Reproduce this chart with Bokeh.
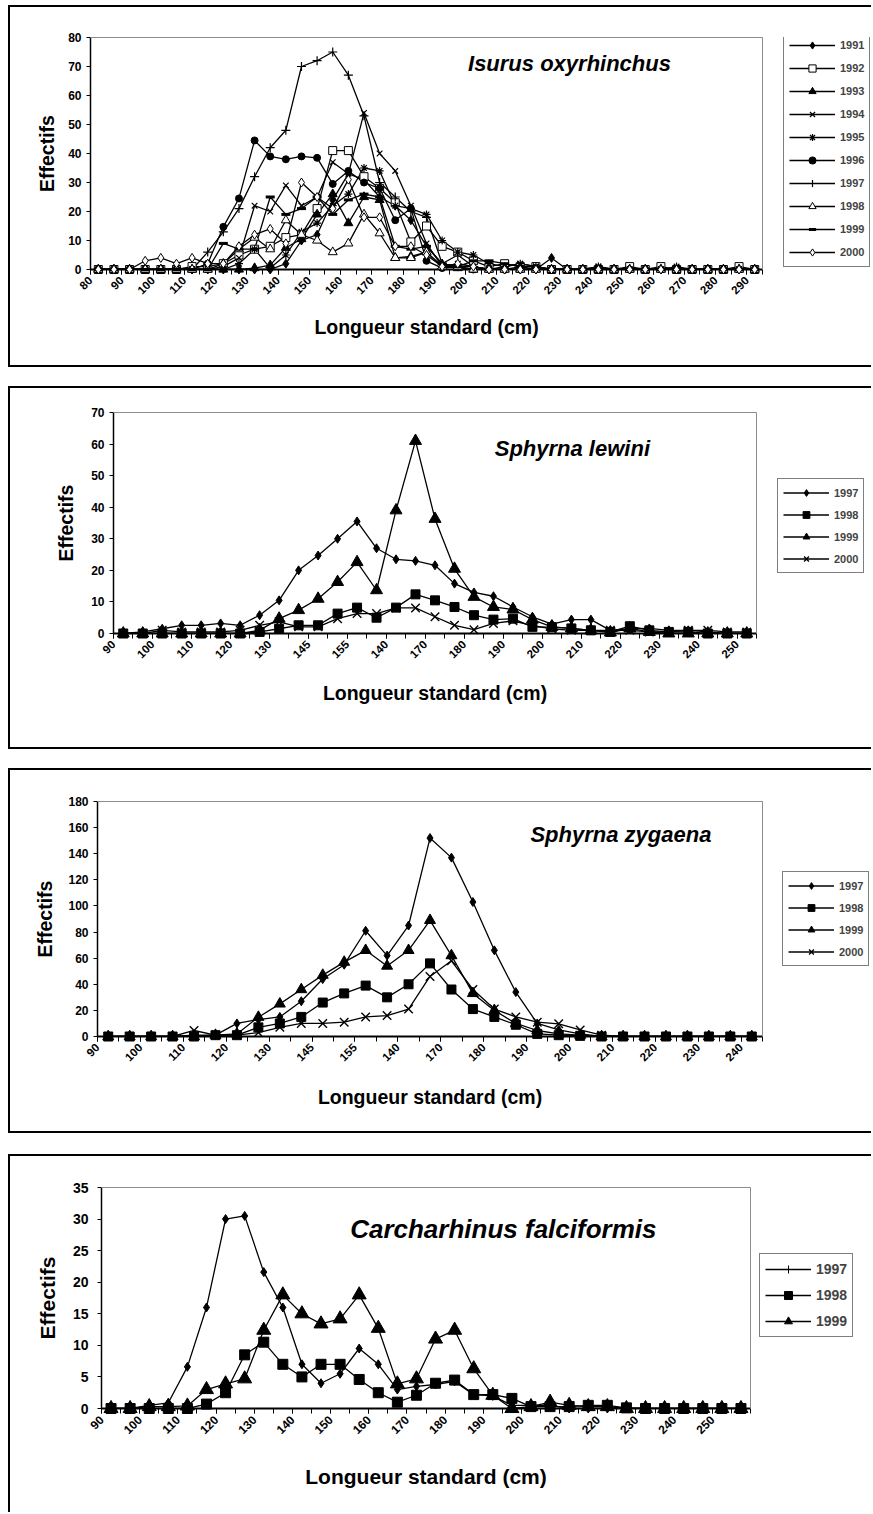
import math
from bokeh.plotting import figure
from bokeh.models import Range1d, FixedTicker, Legend, LegendItem, Label, Title, ColumnDataSource
from bokeh.embed import file_html
from bokeh.resources import INLINE

FONT = "Liberation Sans"

# ---------------- Panel 1 : Isurus oxyrhinchus ----------------
iso_classes = [80, 85, 90, 95, 100, 105, 110, 115, 120, 125, 130, 135, 140, 145, 150,
               155, 160, 165, 170, 175, 180, 185, 190, 195, 200, 205, 210, 215, 220,
               225, 230, 235, 240, 245, 250, 255, 260, 265, 270, 275, 280, 285, 290]
iso_tick_labels = ["80", "90", "100", "110", "120", "130", "140", "150", "160", "170", "180",
                   "190", "200", "210", "220", "230", "240", "250", "260", "270", "280", "290"]
iso_years = ["1991", "1992", "1993", "1994", "1995", "1996", "1997", "1998", "1999", "2000"]
iso_1991 = [0, 0, 0, 0, 0, 0, 0, 0, 0, 0, 0, 0, 2, 10, 12, 24, 33, 31, 25, 22, 17, 8, 2, 1, 1,
            0, 0, 1, 0, 4, 0, 0, 0, 0, 0, 0, 0, 0, 0, 0, 0, 0, 0]
iso_1992 = [0, 0, 0, 0, 0, 0, 1, 1, 2, 5, 7, 8, 11, 12, 21, 41, 41, 32, 28, 23, 9.5, 15, 8, 6, 3,
            1, 2, 1, 1, 0, 0, 0, 0, 0, 1, 0, 1, 0, 0, 0, 0, 1, 0]
iso_1993 = [0, 0, 0, 0, 0, 0, 0, 0, 0, 0, 0.5, 1.5, 7.5, 10.5, 19, 26, 16, 25, 24, 4, 4.5, 6, 1, 0.5, 0,
            0, 0, 0, 0, 0, 0, 0, 0, 0, 0, 0, 0, 0, 0, 0, 0, 0, 0]
iso_1994 = [0, 0, 0, 0, 0, 0, 0, 0, 1, 4, 22, 20, 29, 22, 25, 37, 33, 54, 40, 34, 22, 9, 1, 2, 1,
            0, 1, 2, 1, 0, 0, 0, 1, 0, 0, 0, 0, 0, 0, 0, 0, 0, 0]
iso_1995 = [0, 0, 0, 0, 0, 0, 0, 0, 0, 2, 7, 0.5, 5, 13, 16, 22, 26, 35, 34, 22, 21, 19, 10, 6, 5,
            2, 1, 2, 1, 0, 0, 0, 1, 0, 0, 0, 0, 1, 0, 0, 0, 0, 0]
iso_1996 = [0, 0, 0, 0, 0, 0, 0, 2, 14.7, 24.5, 44.5, 39, 38, 39, 38.5, 29.5, 34, 30, 28, 17, 21, 3, 0.5, 1, 0,
            0, 0, 0, 0, 0, 0, 0, 0, 0, 0, 0, 0, 0, 0, 0, 0, 0, 0]
iso_1997 = [0, 0, 0, 0, 0, 0, 0, 6, 13, 21, 32, 42, 48, 70, 72, 75, 67, 53, 30, 25, 20, 18, 2, 5, 1,
            0, 0, 0, 0, 0, 0, 0, 0, 0, 0, 0, 0, 0, 0, 0, 0, 0, 0]
iso_1998 = [0, 0, 0, 0, 0, 0, 0, 0, 2, 7, 11, 7, 17, 12, 10, 6, 9, 19, 12.5, 4, 4, 6, 1, 1, 0,
            0, 0, 0, 0, 0, 0, 0, 0, 0, 0, 0, 0, 0, 0, 0, 0, 0, 0]
iso_1999 = [0, 0, 0, 0, 0, 0, 0, 0, 9, 7, 7, 25, 19, 21, 25, 19, 24, 26, 25, 8, 7, 8, 2, 1, 3,
            3, 2, 1, 1, 0, 0, 0, 0, 0, 0, 0, 0, 0, 0, 0, 0, 0, 0]
iso_2000 = [0, 0, 0, 3, 4, 2, 4, 2, 2, 8, 12, 14, 9, 30, 25, 21, 31, 18, 18, 8, 8, 5, 1, 2, 1,
            0, 0, 0, 0, 0, 0, 0, 0, 0, 0, 0, 0, 0, 0, 0, 0, 0, 0]

# ---------------- Panel 2 : Sphyrna lewini ----------------
lew_tick_labels = ["90", "100", "110", "120", "130", "145", "155", "140", "170", "180",
                   "190", "200", "210", "220", "230", "240", "250"]
lew_years = ["1997", "1998", "1999", "2000"]
lew_1997 = [0, 0.5, 1.5, 2.6, 2.6, 3.2, 2.6, 5.8, 10.5, 20, 24.7, 30, 35.5, 27, 23.5, 23, 21.6,
            15.8, 13, 11.8, 8.4, 5.3, 3, 4.4, 4.4, 1, 1.5, 1.6, 1, 1, 0.5, 0, 0]
lew_1998 = [0, 0, 0, 0, 0, 0, 0, 0.5, 1.5, 2.6, 2.6, 6.3, 8.2, 5, 8.2, 12.4, 10.5,
            8.4, 5.8, 4.4, 4.7, 2.1, 2, 1.6, 1, 0.5, 2.3, 1, 0.5, 0.5, 0, 0, 0]
lew_1999 = [0, 0, 0, 0, 0, 0, 0, 1, 4.7, 7.4, 11, 16.3, 22.6, 13.7, 39, 61, 36.3,
            20.5, 11.6, 8.4, 7.6, 4.4, 2.1, 1.6, 1, 0.3, 1.6, 0.5, 0, 0, 0, 0, 0]
lew_2000 = [0, 0, 1, 0.5, 0.5, 0.5, 1, 2.6, 3.7, 2.1, 2.1, 4.7, 6.3, 6.3, 8.1, 8.1, 5.3,
            2.6, 1.2, 3.2, 4, 2.5, 1.5, 1, 1, 1, 1, 0.5, 0.5, 1, 1, 0.5, 0.5]

# ---------------- Panel 3 : Sphyrna zygaena ----------------
zyg_tick_labels = ["90", "100", "110", "120", "130", "145", "155", "140", "170", "180",
                   "190", "200", "210", "220", "230", "240"]
zyg_years = ["1997", "1998", "1999", "2000"]
zyg_1997 = [0, 0, 0, 0, 1, 1, 10, 13, 15, 27, 44, 55, 81, 62, 85, 152, 137, 103, 66, 34, 10, 5, 2,
            0, 0, 0, 0, 0, 0, 0, 0]
zyg_1998 = [0, 0, 0, 0, 0, 1, 1, 7, 10, 15, 26, 33, 39, 30, 40, 56, 36, 21, 15, 9, 2, 1, 0.5,
            0, 0, 0, 0, 0, 0, 0, 0]
zyg_1999 = [0, 0, 0, 0, 0, 1, 2, 14.8, 25, 36, 47, 57, 66, 54, 66, 89, 62, 33, 20, 10, 4.6, 2, 1,
            0, 0, 0, 0, 0, 0, 0, 0]
zyg_2000 = [0, 0, 0, 0, 4.6, 1, 1, 3, 7, 10, 10, 11, 15, 16, 21, 46, 58, 36, 21, 15, 11, 9.7, 5,
            1, 0, 0, 0, 0, 0, 0, 0]

# ---------------- Panel 4 : Carcharhinus falciformis ----------------
fal_tick_labels = ["90", "100", "110", "120", "130", "140", "150", "160", "170", "180",
                   "190", "200", "210", "220", "230", "240", "250"]
fal_years = ["1997", "1998", "1999"]
fal_1997 = [0, 0, 0.5, 0.9, 6.6, 16, 30, 30.5, 21.6, 16, 7, 4, 5.5, 9.5, 7, 3, 3.5, 3.8, 4.3, 2.2,
            2, 0.5, 0.5, 0.5, 0, 0, 0, 0, 0, 0, 0, 0, 0, 0]
fal_1998 = [0, 0, 0, 0, 0, 0.7, 2.5, 8.5, 10.5, 7, 5, 7, 7, 4.6, 2.5, 1, 2.1, 4, 4.5, 2.2,
            2.2, 1.6, 0.3, 0.3, 0.3, 0.5, 0.5, 0.1, 0, 0, 0, 0, 0, 0]
fal_1999 = [0, 0, 0.3, 0.3, 0.4, 3, 3.9, 4.7, 12.4, 18, 15, 13.4, 14.2, 18, 12.7, 3.9, 4.7, 11, 12.4, 6.3,
            2.1, 0, 0.3, 1, 0.5, 0.3, 0.3, 0, 0, 0, 0, 0, 0, 0]

X_TITLE = "Longueur standard (cm)"
Y_TITLE = "Effectifs"

# ---------------- styles ----------------
MK = {
    "diamond": dict(marker="diamond", fill="black"),
    "osquare": dict(marker="square", fill="white"),
    "fsquare": dict(marker="square", fill="black"),
    "triangle": dict(marker="triangle", fill="black"),
    "x": dict(marker="x", fill="black"),
    "asterisk": dict(marker="asterisk", fill="black"),
    "circle": dict(marker="circle", fill="black"),
    "cross": dict(marker="cross", fill="black"),
    "otriangle": dict(marker="triangle", fill="white"),
    "dash": dict(marker="dash", fill="black"),
    "odiamond": dict(marker="diamond", fill="white"),
}

W = 863
FRAME_RIGHT = 2
XTITLE_EM = 11.5  # approx. width of the x title in em (bold sans)


def make_panel(n_classes, tick_labels, series, ymax, ystep, H, mb, data_px, title, title_xy,
               title_size, legend_loc, leg_glyph_h, leg_spacing, leg_font, xtick_font, ytick_font,
               axis_px, y_standoff, x_standoff, y_lab_standoff, margin_top, border_bottom=True):
    fl, ft, fb = mb
    x_data_end = 2 * n_classes
    frame_w = W - fl - FRAME_RIGHT
    x_view_end = x_data_end * frame_w / data_px
    p = figure(width=W, height=H, output_backend="svg", toolbar_location=None, title=None,
               x_range=Range1d(0, x_view_end), y_range=Range1d(0, ymax),
               min_border_left=fl, min_border_right=FRAME_RIGHT, min_border_top=ft,
               min_border_bottom=fb, background_fill_color="white", border_fill_color="white")
    st = {"border-left": "2px solid black", "border-top": "2px solid black",
          "margin-top": "%dpx" % margin_top, "margin-left": "8px"}
    if border_bottom:
        st["border-bottom"] = "2px solid black"
    p.styles = st
    p.outline_line_color = None
    p.xgrid.grid_line_color = None
    p.ygrid.grid_line_color = None

    # grey plot-area border (top and right), like the spreadsheet plot area
    p.line([0, x_data_end, x_data_end], [ymax, ymax, 0], line_color="#8c8c8c", line_width=1,
           level="overlay")

    major = [2 * i for i in range(0, n_classes, 2)]
    p.xaxis.ticker = FixedTicker(ticks=major, minor_ticks=[2 * i for i in range(n_classes + 1)])
    p.xaxis.bounds = (0, x_data_end)
    p.xaxis.major_label_overrides = {t: lab for t, lab in zip(major, tick_labels)}
    p.xaxis.major_label_orientation = math.pi / 4
    p.yaxis.ticker = FixedTicker(ticks=list(range(0, ymax + 1, ystep)))
    for ax in (p.xaxis[0], p.yaxis[0]):
        ax.axis_line_color = "black"
        ax.major_tick_line_color = "black"
        ax.major_tick_in = 0
        ax.major_label_text_font = FONT
        ax.major_label_text_font_style = "bold"
        ax.major_label_text_color = "black"
    p.xaxis.major_label_text_font_size = xtick_font
    p.yaxis.major_label_text_font_size = ytick_font
    p.xaxis.axis_line_width = 2
    p.yaxis.axis_line_width = 1.5
    p.xaxis.major_tick_out = 5
    p.xaxis.minor_tick_out = 5
    p.xaxis.minor_tick_in = 0
    p.xaxis.minor_tick_line_color = "black"
    p.xaxis.major_label_standoff = 4
    p.yaxis.major_tick_out = 4
    p.yaxis.minor_tick_line_color = None
    p.yaxis.major_label_standoff = y_lab_standoff
    p.yaxis.axis_label = Y_TITLE
    p.yaxis.axis_label_text_font = FONT
    p.yaxis.axis_label_text_font_style = "bold"
    p.yaxis.axis_label_text_font_size = "%gpx" % axis_px
    p.yaxis.axis_label_text_color = "black"
    p.yaxis.axis_label_standoff = y_standoff

    # x title centred under the data area (not under the legend)
    xt_offset = data_px / 2 - XTITLE_EM * axis_px / 2
    p.add_layout(Title(text=X_TITLE, align="left", offset=xt_offset, standoff=x_standoff,
                       text_font=FONT, text_font_style="bold", text_font_size="%gpx" % axis_px,
                       text_color="black", vertical_align="bottom"), "below")

    items = []
    for label, vals, sty, size, lw, legend_sty in series:
        xs = [2 * i + 1 for i in range(len(vals))]
        src = ColumnDataSource(dict(x=xs, y=vals))
        lr = p.line("x", "y", source=src, line_color="black", line_width=1.3)
        rends = [lr]
        if legend_sty is not None:
            # legend-only symbol, hidden under the plotted markers
            lm = MK[legend_sty]
            rends.append(p.scatter("x", "y", source=src, marker=lm["marker"], size=6,
                                   fill_color=lm["fill"], line_color="black", line_width=1,
                                   level="overlay"))
        m = MK[sty]
        sr = p.scatter("x", "y", source=src, marker=m["marker"], size=size, fill_color=m["fill"],
                       line_color="black", line_width=lw, level="overlay")
        if legend_sty is None:
            rends.append(sr)
        items.append(LegendItem(label=label, renderers=rends))

    leg = Legend(items=items, location=legend_loc, glyph_width=46, glyph_height=leg_glyph_h,
                 label_height=leg_glyph_h, spacing=leg_spacing, padding=5, margin=0,
                 label_standoff=5, label_text_font=FONT, label_text_font_style="bold",
                 label_text_font_size=leg_font, border_line_color="black",
                 border_line_width=1.5, background_fill_color="white", background_fill_alpha=1)
    p.add_layout(leg)

    p.add_layout(Label(x=title_xy[0], y=title_xy[1], text=title, text_font=FONT,
                       text_font_style="bold italic", text_font_size=title_size,
                       text_align="center", text_baseline="middle", text_color="black"))
    return p


s1 = [
    ("1991", iso_1991, "diamond", 9, 1, None),
    ("1992", iso_1992, "osquare", 8, 1, None),
    ("1993", iso_1993, "triangle", 9, 1, None),
    ("1994", iso_1994, "x", 8, 1.2, None),
    ("1995", iso_1995, "asterisk", 8, 1.2, None),
    ("1996", iso_1996, "circle", 7, 1, None),
    ("1997", iso_1997, "cross", 9, 1.2, None),
    ("1998", iso_1998, "otriangle", 9, 1, None),
    ("1999", iso_1999, "dash", 9, 3, None),
    ("2000", iso_2000, "odiamond", 9, 1, None),
]
p1 = make_panel(len(iso_classes), iso_tick_labels, s1, 80, 10, 362, (80, 30, 100), 672,
                "Isurus oxyrhinchus", (61.3, 71), "22px", (693, 2), 18, 5, "11px", "11.5px", "12px",
                19.5, 7, 27, 5, 5)

s2 = [
    ("1997", lew_1997, "diamond", 9, 1, None),
    ("1998", lew_1998, "fsquare", 9, 1, None),
    ("1999", lew_1999, "triangle", 12, 1, None),
    ("2000", lew_2000, "x", 12, 1.4, None),
]
p2 = make_panel(len(lew_1997), lew_tick_labels, s2, 70, 10, 363, (103, 24, 118), 643,
                "Sphyrna lewini", (47.1, 58.6), "22px", (664, 60), 17, 5, "11px", "11.5px", "12px",
                19.5, 11, 30, 5, 19)

s3 = [
    ("1997", zyg_1997, "diamond", 9, 1, None),
    ("1998", zyg_1998, "fsquare", 9, 1, None),
    ("1999", zyg_1999, "triangle", 11, 1, None),
    ("2000", zyg_2000, "x", 12, 1.4, None),
]
p3 = make_panel(len(zyg_1997), zyg_tick_labels, s3, 180, 20, 365, (87, 31, 99), 665,
                "Sphyrna zygaena", (48.8, 154.7), "22px", (685, 70), 17, 5, "11px", "11.5px", "12px",
                19.5, 9, 32, 5, 19)

s4 = [
    ("1997", fal_1997, "diamond", 9, 1, "cross"),
    ("1998", fal_1998, "fsquare", 10, 1, None),
    ("1999", fal_1999, "triangle", 14, 1, None),
]
p4 = make_panel(len(fal_1997), fal_tick_labels, s4, 35, 5, 358, (91, 31, 106), 649,
                "Carcharhinus falciformis", (42.1, 28.5), "26px", (658, 71), 20, 6, "14px", "12px",
                "14px", 21, 11, 43, 9, 21, border_bottom=False)

open("out.html", "w").write(file_html([p1, p2, p3, p4], INLINE))
